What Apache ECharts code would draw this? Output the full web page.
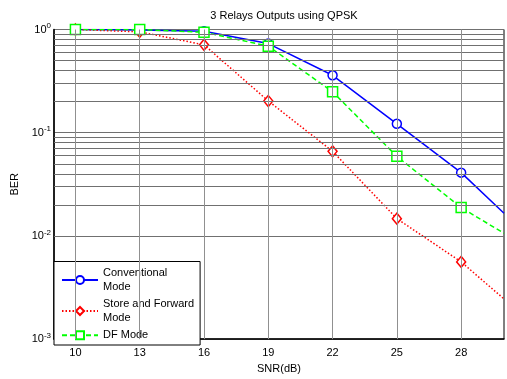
<!DOCTYPE html>
<html>
<head>
<meta charset="utf-8">
<script src="https://cdn.jsdelivr.net/npm/echarts@6/dist/echarts.min.js"></script>
<style>
  html, body { margin: 0; padding: 0; background: #fff; }
  #chart { width: 507px; height: 379px; }
</style>
</head>
<body>
<div id="chart"></div>
<script>
// SNR points (dB) and bit error rates for the three relay schemes
const snr = [10, 13, 16, 19, 22, 25, 28, 30];
const berConventional = [1.0, 0.99, 0.96, 0.73, 0.36, 0.122, 0.041, 0.0166];
const berStoreForward = [1.0, 0.95, 0.71, 0.203, 0.066, 0.0147, 0.0056, 0.00245];
const berDF = [1.0, 1.0, 0.94, 0.69, 0.249, 0.059, 0.0188, 0.0106];
const seriesNames = ['Conventional\nMode', 'Store and Forward\nMode', 'DF Mode'];
const xTicks = [10, 13, 16, 19, 22, 25, 28];
const yMinorGrid = [];
[0.001, 0.01, 0.1].forEach(d => { for (let k = 2; k <= 9; k++) yMinorGrid.push(+(d * k).toPrecision(3)); });

const FONT = 'Liberation Sans, Arial, sans-serif';
const GRID_H = '#707070';
const GRID_V = '#909090';

function pairs(ys) {
  // last point sits on the right frame edge, drawn without a marker
  return snr.map((x, i) => i === snr.length - 1 ? { value: [x, ys[i]], symbol: 'none' } : [x, ys[i]]);
}

const chart = echarts.init(document.getElementById('chart'), null, { renderer: 'canvas' });
chart.setOption({
  animation: false,
  backgroundColor: '#fff',
  textStyle: { fontFamily: FONT },
  title: {
    text: '3 Relays Outputs using QPSK',
    left: 279, top: 5, textAlign: 'center',
    textStyle: { fontFamily: FONT, fontSize: 11, fontWeight: 'normal', color: '#000' }
  },
  grid: {
    left: 54, right: 3, top: 29.5, bottom: 34,
    show: true, borderColor: '#000', borderWidth: 1, backgroundColor: '#fff'
  },
  xAxis: {
    type: 'value', min: 9, max: 30, interval: 1,
    name: 'SNR(dB)', nameLocation: 'middle', nameGap: 22,
    nameTextStyle: { fontFamily: FONT, fontSize: 11, color: '#000' },
    axisLine: { lineStyle: { color: '#000', width: 1.5 } },
    axisTick: { show: false },
    splitLine: { show: false },
    axisLabel: {
      margin: 8, fontFamily: FONT, fontSize: 11, color: '#000',
      formatter: v => xTicks.includes(v) ? String(v) : ''
    }
  },
  yAxis: {
    type: 'log', logBase: 10, min: 0.001, max: 1,
    name: 'BER', nameLocation: 'middle', nameGap: 27, nameRotate: 90,
    nameTextStyle: { fontFamily: FONT, fontSize: 11, color: '#000' },
    axisLine: { lineStyle: { color: '#000', width: 1.5 } },
    axisTick: { show: false },
    splitLine: { show: true, lineStyle: { color: GRID_H, width: 1 } },
    axisLabel: {
      margin: 3, color: '#000',
      formatter: v => '{b|10}{s|' + Math.round(Math.log10(v)) + '}',
      rich: {
        b: { fontFamily: FONT, fontSize: 11, color: '#000' },
        s: { fontFamily: FONT, fontSize: 8, color: '#000', padding: [0, 0, 7, 0] }
      }
    }
  },
  legend: {
    left: 54, bottom: 34, orient: 'vertical',
    backgroundColor: '#fff', borderColor: '#000', borderWidth: 1, borderRadius: 0,
    padding: [5, 6, 3, 7], itemGap: 4, itemWidth: 36, itemHeight: 10,
    textStyle: { fontFamily: FONT, fontSize: 11, color: '#000', lineHeight: 13.5, padding: [0, 0, 0, 0] },
    data: seriesNames
  },
  series: [
    {
      name: 'grid', type: 'line', data: [], silent: true,
      markLine: {
        silent: true, symbol: 'none', animation: false,
        label: { show: false },
        data: yMinorGrid.map(v => ({ yAxis: v, lineStyle: { color: GRID_H, width: 1, type: 'solid' } }))
          .concat(xTicks.map(v => ({ xAxis: v, lineStyle: { color: GRID_V, width: 1, type: 'solid' } })))
      }
    },
    {
      name: seriesNames[0], type: 'line', data: pairs(berConventional),
      symbol: 'circle', symbolSize: 9, color: '#0000ff',
      lineStyle: { color: '#0000ff', width: 1.5, type: 'solid' },
      itemStyle: { color: '#fff', borderColor: '#0000ff', borderWidth: 1.5 }
    },
    {
      name: seriesNames[1], type: 'line', data: pairs(berStoreForward),
      symbol: 'diamond', symbolSize: [9, 11], color: '#ff0000',
      lineStyle: { color: '#ff0000', width: 1.5, type: [1.5, 2] },
      itemStyle: { color: '#fff', borderColor: '#ff0000', borderWidth: 1.5 }
    },
    {
      name: seriesNames[2], type: 'line', data: pairs(berDF),
      symbol: 'rect', symbolSize: 10, color: '#00ff00',
      lineStyle: { color: '#00ff00', width: 1.5, type: [5, 3] },
      itemStyle: { color: '#fff', borderColor: '#00ff00', borderWidth: 1.5 }
    }
  ]
});
</script>
</body>
</html>
